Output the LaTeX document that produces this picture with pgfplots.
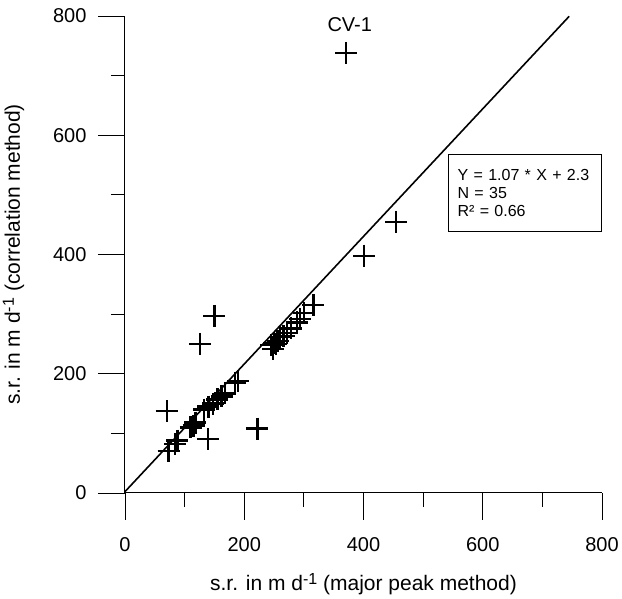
\documentclass[border=0pt]{standalone}
\usepackage{pgfplots}
\pgfplotsset{compat=1.18}
\usepackage{fontspec}
\setmainfont{Liberation Sans}
\newcommand{\mysup}[1]{\raisebox{0.55ex}{\fontsize{16}{18}\selectfont #1}}
\begin{document}
\begin{tikzpicture}
\begin{axis}[
  at={(0pt,0pt)}, anchor=south west,
  scale only axis, width=477pt, height=477pt,
  xmin=0, xmax=800, ymin=0, ymax=800,
  axis lines=left, axis line style={-, line width=1pt},
  xtick={0,200,400,600,800}, ytick={0,200,400,600,800},
  minor tick num=1,
  tick align=outside,
  major tick length=27pt, minor tick length=14pt,
  tick style={black, line width=0.9pt},
  /pgf/number format/assume math mode=true,
  tick label style={font=\fontsize{20}{22}\selectfont},
  xticklabel style={yshift=-14pt},
  yticklabel style={xshift=-8pt},
  label style={font=\fontsize{21}{24}\selectfont},
  xlabel={s.r. in m d\mysup{-1} (major peak method)},
  ylabel={s.r. in m d\mysup{-1} (correlation method)},
  xlabel style={yshift=-15pt},
  ylabel style={yshift=22pt},
  clip=false,
]
\addplot[black, line width=1.6pt] coordinates {(0,2.3) (745,799.5)};
\addplot[only marks, mark=+, mark size=11pt, mark options={line width=2.3pt}, black] coordinates {
(371,738) (455,455) (401,398) (150,297) (126,250) (70,137) (222,108) (139,90) (73,70)
(84,82) (88,88) (110,110) (115,113) (118,118) (133,140) (140,145) (148,150) (155,157)
(162,162) (168,167) (184,185) (190,188)
(245,248) (248,242) (250,252) (253,250) (256,255) (260,262) (266,263) (272,268)
(278,276) (288,286) (293,292) (300,302) (316,315)
};
\node[font=\fontsize{20}{22}\selectfont] at (axis cs:377,785) {CV-1};
\node[draw, line width=0.8pt, anchor=north east, align=left, text width=135pt, inner xsep=9pt, inner ysep=15pt,
  font=\fontsize{16}{18}\selectfont] at (axis cs:800,569)
  {Y = 1.07 * X + 2.3\\N = 35\\R² = 0.66};
\end{axis}
\pgfresetboundingbox
\path (-125pt,-106pt) rectangle (497pt,493pt);
\end{tikzpicture}
\end{document}
